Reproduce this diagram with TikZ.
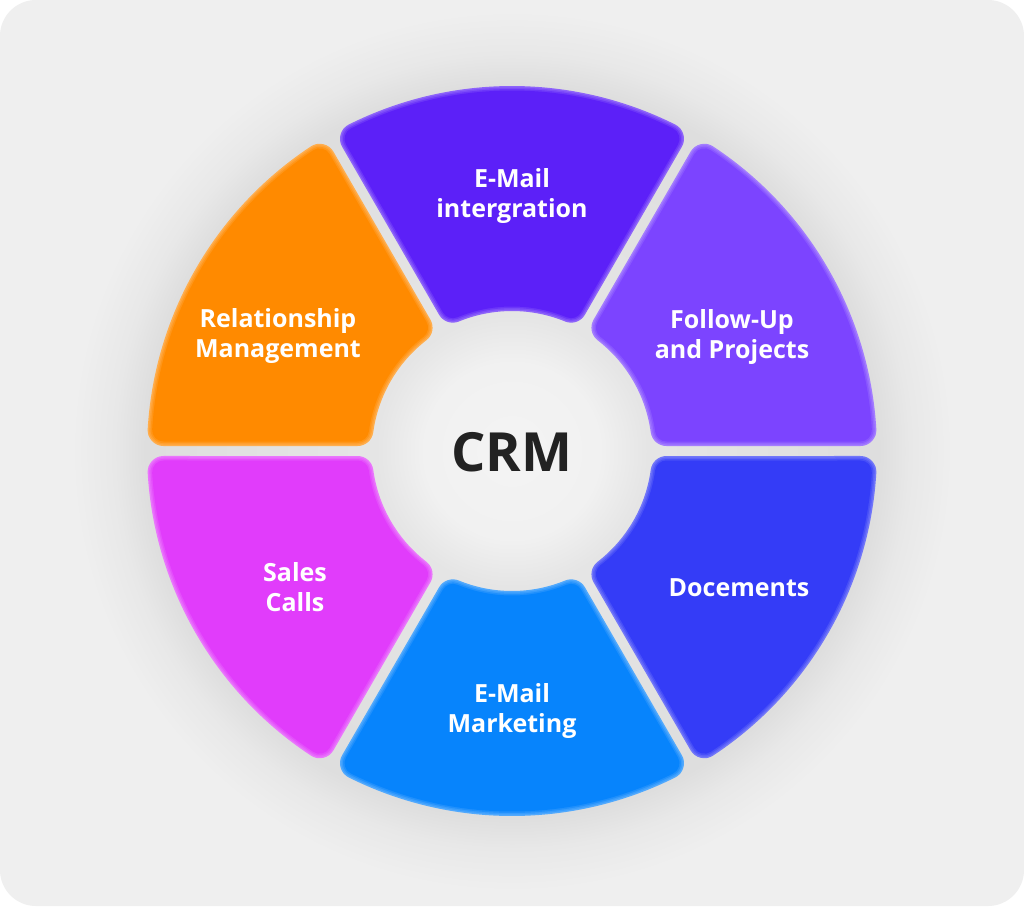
\documentclass[tikz,border=0pt]{standalone}
\usepackage{fontspec}
\setmainfont{Open Sans}
\definecolor{bg}{HTML}{EFEFEF}
\definecolor{cTop}{HTML}{5C20F8}
\definecolor{cFollow}{HTML}{7C44FF}
\definecolor{cDoc}{HTML}{343CF7}
\definecolor{cMark}{HTML}{0784FC}
\definecolor{cSales}{HTML}{E13CFB}
\definecolor{cRel}{HTML}{FF8A00}
\definecolor{crmtext}{HTML}{222222}
\pgfdeclareradialshading{ringshade}{\pgfpoint{0bp}{0bp}}{rgb(0bp)=(0.955,0.955,0.955); rgb(5bp)=(0.945,0.945,0.945); rgb(7.6bp)=(0.9,0.9,0.9); rgb(20.8bp)=(0.87,0.87,0.87); rgb(22.6bp)=(0.91,0.91,0.91); rgb(25bp)=(0.937,0.937,0.937); rgb(50bp)=(0.937,0.937,0.937)}
\newcommand\ringseg[2]{%
  \pgfmathsetmacro\aoA{#1-30+\dOut}%
  \pgfmathsetmacro\aoB{#1+30-\dOut}%
  \pgfmathsetmacro\aiA{#1-30+\dIn}%
  \pgfmathsetmacro\aiB{#1+30-\dIn}%
  \foreach \w/\m in {32pt/70,29pt/80,26pt/90,23pt/100}{%
    \filldraw[line join=round, line width=\w, draw=#2!\m!white, fill=#2!\m!white]
      (\aoA:349pt) arc[start angle=\aoA, end angle=\aoB, radius=349pt]
      -- (\aiB:156pt) arc[start angle=\aiB, end angle=\aiA, radius=156pt] -- cycle;
  }%
}
\begin{document}
\begin{tikzpicture}[x=1pt,y=1pt,
  lbl/.style={text=white, font=\fontsize{25}{30}\selectfont\bfseries, align=center, inner sep=0pt},
  crm/.style={text=crmtext, font=\fontsize{54}{60}\selectfont\bfseries, inner sep=0pt}]
\useasboundingbox (-512,-455) rectangle (512,451);
\fill[white] (-512,-455) rectangle (512,451);
\fill[bg, rounded corners=36pt] (-512,-455) rectangle (512,451);
\shade[shading=ringshade] (0,0) circle (440pt);
\pgfmathsetmacro\dOut{asin(21/349)}
\pgfmathsetmacro\dIn{asin(21/156)}
\ringseg{90}{cTop}
\ringseg{30}{cFollow}
\ringseg{-30}{cDoc}
\ringseg{-90}{cMark}
\ringseg{-150}{cSales}
\ringseg{150}{cRel}
\node[lbl] (email) at (0,255) {E-Mail\\intergration};
\node[lbl] (follow) at (220,114) {Follow-Up\\and Projects};
\node[lbl] (docs) at (227,-137) {Docements};
\node[lbl] (mark) at (0,-260) {E-Mail\\Marketing};
\node[lbl] (sales) at (-217,-136) {Sales\\Calls};
\node[lbl] (rel) at (-234,115) {Relationship\\Management};
\node[crm] (crm) at (0,-1) {CRM};
\end{tikzpicture}
\end{document}
